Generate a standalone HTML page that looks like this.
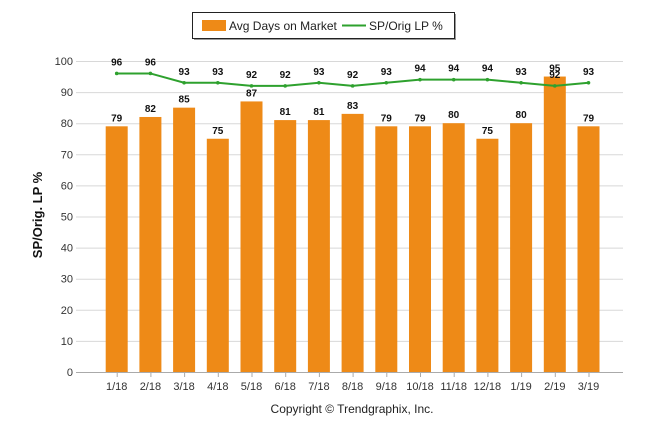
<!DOCTYPE html>
<html><head><meta charset="utf-8"><style>
body{margin:0;background:#fff;font-family:"Liberation Sans",sans-serif}
svg text{font-family:"Liberation Sans",sans-serif}
</style></head><body>
<svg width="646" height="434" xmlns="http://www.w3.org/2000/svg">
<g>
<rect x="192.5" y="12.5" width="262" height="26" fill="#fff" stroke="#222"/>
<line x1="194" y1="39.5" x2="456" y2="39.5" stroke="#999" stroke-width="1"/>
<line x1="455.5" y1="14" x2="455.5" y2="40" stroke="#999" stroke-width="1"/>
<rect x="202" y="20" width="24" height="11" fill="#EE8A17"/>
<text x="229" y="30" font-size="12" fill="#222">Avg Days on Market</text>
<line x1="342" y1="25.5" x2="366" y2="25.5" stroke="#2EA12E" stroke-width="2"/>
<text x="369" y="30" font-size="12" fill="#222">SP/Orig LP %</text>
</g>
<g id="grid"></g><g id="bars"></g><g id="line"></g><g id="labels"></g><g id="xaxis"></g>
<text transform="translate(42,215) rotate(-90)" text-anchor="middle" font-size="13" font-weight="bold" fill="#111">SP/Orig. LP %</text>
<text x="352" y="413" text-anchor="middle" font-size="12" fill="#222">Copyright © Trendgraphix, Inc.</text>
</svg>
<script>
const categories=["1/18","2/18","3/18","4/18","5/18","6/18","7/18","8/18","9/18","10/18","11/18","12/18","1/19","2/19","3/19"];
const daysOnMarket=[79,82,85,75,87,81,81,83,79,79,80,75,80,95,79];
const spOrigLP=[96,96,93,93,92,92,93,92,93,94,94,94,93,92,93];
const yTicks=[0,10,20,30,40,50,60,70,80,90,100];
const NS="http://www.w3.org/2000/svg";
const x0=83,band=33.7,y0=372,yScale=3.11;
function xc(i){return x0+band*(i+1);}
function y(v){return y0-v*yScale;}
function mk(tag,attrs,parent){const e=document.createElementNS(NS,tag);for(const k in attrs)e.setAttribute(k,attrs[k]);document.getElementById(parent).appendChild(e);return e;}
yTicks.forEach(t=>{
 const l=mk('line',{x1:76,x2:623,y1:y(t)+0.5,y2:y(t)+0.5,stroke:t===0?'#aaa':'#d8d8d8'},'grid');
 
 
 const tx=mk('text',{x:73,y:y(t)+4,'text-anchor':'end','font-size':11,fill:'#333'},'grid');
 tx.textContent=t;
 
 
});
categories.forEach((c,i)=>{
 const b=mk('rect',{x:xc(i)-11,y:y(daysOnMarket[i]),width:22,height:daysOnMarket[i]*yScale,fill:'#EE8A17'},'bars');
 
 
 const bl=mk('text',{x:xc(i),y:y(daysOnMarket[i])-5,'text-anchor':'middle','font-size':10,'font-weight':'bold',fill:'#111'},'labels');
 bl.textContent=daysOnMarket[i];
 
 
 const ll=mk('text',{x:xc(i),y:y(spOrigLP[i])-8,'text-anchor':'middle','font-size':10,'font-weight':'bold',fill:'#111'},'labels');
 ll.textContent=spOrigLP[i];
 
 
 const tk=mk('line',{x1:xc(i)+0.5,x2:xc(i)+0.5,y1:y0,y2:y0+5,stroke:'#aaa'},'xaxis');
 
 
 const xl=mk('text',{x:xc(i),y:y0+18,'text-anchor':'middle','font-size':11,fill:'#333'},'xaxis');
 xl.textContent=c;
 
 
});
const pl=mk('polyline',{points:spOrigLP.map((v,i)=>xc(i)+','+y(v)).join(' '),fill:'none',stroke:'#2EA12E','stroke-width':2},'line');


spOrigLP.forEach((v,i)=>{
 const p=mk('circle',{cx:xc(i),cy:y(v),r:1.8,fill:'#2EA12E'},'line');
 
 
});
</script>
</body></html>
